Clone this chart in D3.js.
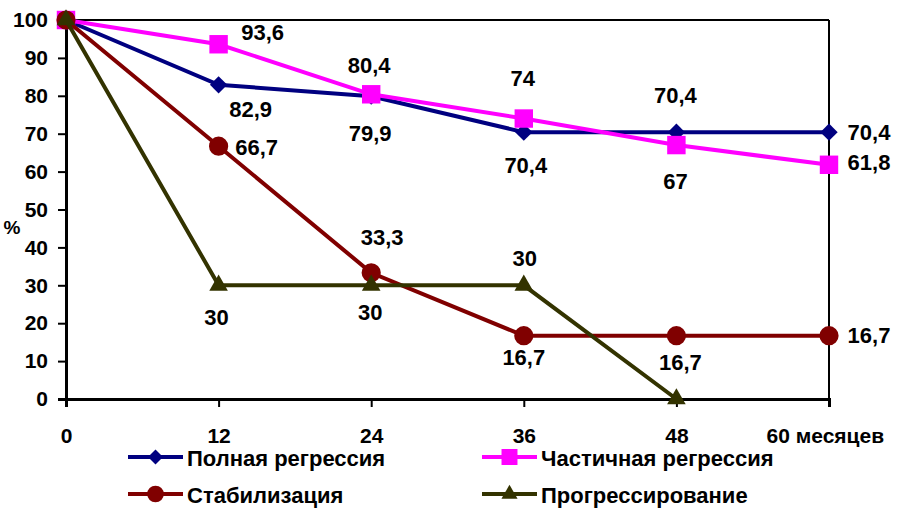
<!DOCTYPE html>
<html>
<head>
<meta charset="utf-8">
<script src="https://cdn.jsdelivr.net/npm/d3@7/dist/d3.min.js"></script>
<style>
  html, body { margin: 0; padding: 0; background: #fff; }
  svg { display: block; }
  text { font-family: "Liberation Sans", Arial, sans-serif; font-weight: bold; fill: #000; }
</style>
</head>
<body>
<svg id="chart" width="897" height="510"></svg>
<script>
// Months of follow-up
const months = [0, 12, 24, 36, 48, 60];
const xTickLabels = ["0", "12", "24", "36", "48", "60 месяцев"];
const yTicks = [0, 10, 20, 30, 40, 50, 60, 70, 80, 90, 100];

// Survival (%) per response group
const seriesNames = ["Полная регрессия", "Частичная регрессия", "Стабилизация", "Прогрессирование"];
const fullRegression = [100, 82.9, 79.9, 70.4, 70.4, 70.4];
const partialRegression = [100, 93.6, 80.4, 74, 67, 61.8];
const stabilization = [100, 66.7, 33.3, 16.7, 16.7, 16.7];
const progression = [100, 30, 30, 30, 0];

// Value-label placement per point: [dx, dy] offset from the marker, null = no label
const fullLabelPos = [null, [32, 25], [-1, 37], [2, 33], [-1, -37], [40, 0]];
const partialLabelPos = [null, [44, -12], [-2, -29], [-1, -40], [-1, 36], [40, -2]];
const stabLabelPos = [null, [38, 1], [11, -35], [0, 22], [4, 27], [40, 0]];
const progLabelPos = [null, [-2, 32], [-1, 27], [1, -27], null];

const svg = d3.select("#chart");
const W = 897, H = 510;
const margin = { left: 66, right: W - 829, top: 20, bottom: H - 399 };

const x = d3.scaleLinear().domain([0, 60]).range([margin.left, W - margin.right]);
const y = d3.scaleLinear().domain([0, 100]).range([H - margin.bottom, margin.top]);

const fmt = v => String(v).replace(".", ",");
const FONT = "22px";

// Frame: top and right edges
svg.append("line").attr("x1", x(0)).attr("x2", x(60)).attr("y1", y(100)).attr("y2", y(100))
  .attr("stroke", "#000").attr("stroke-width", 2);
svg.append("line").attr("x1", x(60)).attr("x2", x(60)).attr("y1", y(100)).attr("y2", y(0))
  .attr("stroke", "#000").attr("stroke-width", 2);

// Y axis
const yAxis = svg.append("g").attr("transform", `translate(${x(0)},0)`)
  .call(d3.axisLeft(y).tickValues(yTicks).tickSize(8).tickPadding(10).tickFormat(d3.format("d")));
yAxis.select(".domain").attr("stroke-width", 3);
yAxis.selectAll(".tick line").attr("stroke-width", 2);
yAxis.selectAll(".tick text").style("font-size", "21px").attr("fill", "#000");

// X axis
const xAxis = svg.append("g").attr("transform", `translate(0,${y(0)})`)
  .call(d3.axisBottom(x).tickValues(months).tickSize(8).tickPadding(21)
    .tickFormat((d, i) => xTickLabels[i]));
xAxis.select(".domain").attr("stroke-width", 3);
xAxis.selectAll(".tick line").attr("stroke-width", 2);
xAxis.selectAll(".tick text").style("font-size", "21px").attr("fill", "#000");
// Last tick label extends to the right of its tick
xAxis.selectAll(".tick text").filter((d, i) => i === months.length - 1)
  .attr("text-anchor", "start").attr("dx", -63);

// Axis unit, beside the 50/40 tick labels
svg.append("text").attr("x", 12).attr("y", 229).attr("text-anchor", "middle")
  .attr("dominant-baseline", "middle").style("font-size", "19px").text("%");

const series = [
  { name: seriesNames[0], values: fullRegression, labels: fullLabelPos, color: "#000080", marker: "diamond" },
  { name: seriesNames[1], values: partialRegression, labels: partialLabelPos, color: "#FF00FF", marker: "square" },
  { name: seriesNames[2], values: stabilization, labels: stabLabelPos, color: "#800000", marker: "circle" },
  { name: seriesNames[3], values: progression, labels: progLabelPos, color: "#333300", marker: "triangle" }
];

// Marker shapes; the diamond is a square turned by 45 degrees
const symbolType = {
  diamond: d3.symbolSquare,
  square: d3.symbolSquare,
  circle: d3.symbolCircle,
  triangle: d3.symbolTriangle
};
const symbolSize = { diamond: 150, square: 340, circle: 290, triangle: 150 };
const symbolRot = { diamond: 45, square: 0, circle: 0, triangle: 0 };

const line = d3.line().x((d, i) => x(months[i])).y(d => y(d));

function drawMarker(g, s, cx, cy, scale = 1) {
  g.append("path")
    .attr("d", d3.symbol().type(symbolType[s.marker]).size(symbolSize[s.marker] * scale)())
    .attr("transform", `translate(${cx},${cy}) rotate(${symbolRot[s.marker]})`)
    .attr("fill", s.color);
}

series.forEach(s => {
  svg.append("path").datum(s.values).attr("d", line)
    .attr("fill", "none").attr("stroke", s.color).attr("stroke-width", 4);
  const g = svg.append("g");
  s.values.forEach((v, i) => drawMarker(g, s, x(months[i]), y(v)));
});

// Value labels
series.forEach(s => {
  s.values.forEach((v, i) => {
    const p = s.labels[i];
    if (!p) return;
    svg.append("text")
      .attr("x", x(months[i]) + p[0]).attr("y", y(v) + p[1])
      .attr("text-anchor", "middle").attr("dominant-baseline", "central")
      .style("font-size", FONT).text(fmt(v));
  });
});

// Legend
const legendPos = [[128, 457], [482, 457], [128, 494], [482, 494]];
series.forEach((s, i) => {
  const [lx, ly] = legendPos[i];
  const g = svg.append("g");
  g.append("line").attr("x1", lx).attr("x2", lx + 55).attr("y1", ly).attr("y2", ly)
    .attr("stroke", s.color).attr("stroke-width", 4);
  drawMarker(g, s, lx + 27.5, ly, 0.75);
  g.append("text").attr("x", lx + 59).attr("y", ly + 1).attr("dominant-baseline", "central")
    .style("font-size", FONT).text(s.name);
});
</script>
</body>
</html>
